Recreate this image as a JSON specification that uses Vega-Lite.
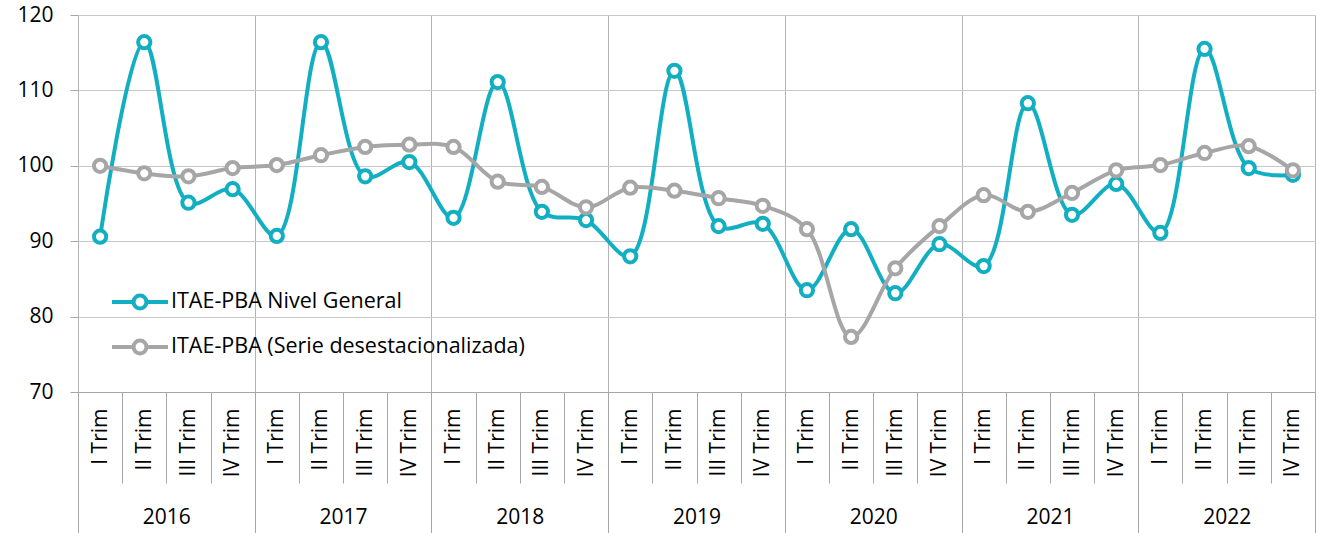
{
  "$schema": "https://vega.github.io/schema/vega-lite/v6.json",
  "width": 1237,
  "height": 377,
  "autosize": {"type": "none"},
  "padding": {"left": 78, "top": 15, "right": 4, "bottom": 141},
  "background": "white",
  "config": {
    "view": {"stroke": null},
    "font": "Open Sans",
    "axis": {"labelFont": "Open Sans", "labelFontSize": 21, "labelColor": "#000000", "tickColor": "#A6A6A6", "domainColor": "#A6A6A6", "gridColor": "#C8C8C8", "title": null},
    "legend": {
      "symbolType": "M-1,0H-0.23M0.23,0H1M0.23,0A0.23,0.23 0 1,1 -0.23,0A0.23,0.23 0 1,1 0.23,0",
      "symbolSize": 3136,
      "symbolStrokeWidth": 4,
      "symbolFillColor": "white",
      "labelFont": "Open Sans",
      "labelFontSize": 21.5,
      "labelColor": "#000000",
      "labelOffset": 1,
      "rowPadding": -4,
      "labelLimit": 600
    }
  },
  "data": {
    "values": [
      {"t": 1, "serie": "ITAE-PBA Nivel General", "valor": 90.6},
      {"t": 2, "serie": "ITAE-PBA Nivel General", "valor": 116.4},
      {"t": 3, "serie": "ITAE-PBA Nivel General", "valor": 95.1},
      {"t": 4, "serie": "ITAE-PBA Nivel General", "valor": 96.9},
      {"t": 5, "serie": "ITAE-PBA Nivel General", "valor": 90.7},
      {"t": 6, "serie": "ITAE-PBA Nivel General", "valor": 116.4},
      {"t": 7, "serie": "ITAE-PBA Nivel General", "valor": 98.6},
      {"t": 8, "serie": "ITAE-PBA Nivel General", "valor": 100.5},
      {"t": 9, "serie": "ITAE-PBA Nivel General", "valor": 93.1},
      {"t": 10, "serie": "ITAE-PBA Nivel General", "valor": 111.1},
      {"t": 11, "serie": "ITAE-PBA Nivel General", "valor": 93.9},
      {"t": 12, "serie": "ITAE-PBA Nivel General", "valor": 92.8},
      {"t": 13, "serie": "ITAE-PBA Nivel General", "valor": 88.0},
      {"t": 14, "serie": "ITAE-PBA Nivel General", "valor": 112.6},
      {"t": 15, "serie": "ITAE-PBA Nivel General", "valor": 92.0},
      {"t": 16, "serie": "ITAE-PBA Nivel General", "valor": 92.3},
      {"t": 17, "serie": "ITAE-PBA Nivel General", "valor": 83.5},
      {"t": 18, "serie": "ITAE-PBA Nivel General", "valor": 91.6},
      {"t": 19, "serie": "ITAE-PBA Nivel General", "valor": 83.1},
      {"t": 20, "serie": "ITAE-PBA Nivel General", "valor": 89.6},
      {"t": 21, "serie": "ITAE-PBA Nivel General", "valor": 86.7},
      {"t": 22, "serie": "ITAE-PBA Nivel General", "valor": 108.3},
      {"t": 23, "serie": "ITAE-PBA Nivel General", "valor": 93.5},
      {"t": 24, "serie": "ITAE-PBA Nivel General", "valor": 97.6},
      {"t": 25, "serie": "ITAE-PBA Nivel General", "valor": 91.1},
      {"t": 26, "serie": "ITAE-PBA Nivel General", "valor": 115.5},
      {"t": 27, "serie": "ITAE-PBA Nivel General", "valor": 99.7},
      {"t": 28, "serie": "ITAE-PBA Nivel General", "valor": 98.8},
      {"t": 1, "serie": "ITAE-PBA (Serie desestacionalizada)", "valor": 100.0},
      {"t": 2, "serie": "ITAE-PBA (Serie desestacionalizada)", "valor": 99.0},
      {"t": 3, "serie": "ITAE-PBA (Serie desestacionalizada)", "valor": 98.6},
      {"t": 4, "serie": "ITAE-PBA (Serie desestacionalizada)", "valor": 99.7},
      {"t": 5, "serie": "ITAE-PBA (Serie desestacionalizada)", "valor": 100.1},
      {"t": 6, "serie": "ITAE-PBA (Serie desestacionalizada)", "valor": 101.4},
      {"t": 7, "serie": "ITAE-PBA (Serie desestacionalizada)", "valor": 102.5},
      {"t": 8, "serie": "ITAE-PBA (Serie desestacionalizada)", "valor": 102.8},
      {"t": 9, "serie": "ITAE-PBA (Serie desestacionalizada)", "valor": 102.5},
      {"t": 10, "serie": "ITAE-PBA (Serie desestacionalizada)", "valor": 97.9},
      {"t": 11, "serie": "ITAE-PBA (Serie desestacionalizada)", "valor": 97.2},
      {"t": 12, "serie": "ITAE-PBA (Serie desestacionalizada)", "valor": 94.5},
      {"t": 13, "serie": "ITAE-PBA (Serie desestacionalizada)", "valor": 97.1},
      {"t": 14, "serie": "ITAE-PBA (Serie desestacionalizada)", "valor": 96.7},
      {"t": 15, "serie": "ITAE-PBA (Serie desestacionalizada)", "valor": 95.7},
      {"t": 16, "serie": "ITAE-PBA (Serie desestacionalizada)", "valor": 94.7},
      {"t": 17, "serie": "ITAE-PBA (Serie desestacionalizada)", "valor": 91.6},
      {"t": 18, "serie": "ITAE-PBA (Serie desestacionalizada)", "valor": 77.3},
      {"t": 19, "serie": "ITAE-PBA (Serie desestacionalizada)", "valor": 86.4},
      {"t": 20, "serie": "ITAE-PBA (Serie desestacionalizada)", "valor": 92.0},
      {"t": 21, "serie": "ITAE-PBA (Serie desestacionalizada)", "valor": 96.1},
      {"t": 22, "serie": "ITAE-PBA (Serie desestacionalizada)", "valor": 93.9},
      {"t": 23, "serie": "ITAE-PBA (Serie desestacionalizada)", "valor": 96.4},
      {"t": 24, "serie": "ITAE-PBA (Serie desestacionalizada)", "valor": 99.4},
      {"t": 25, "serie": "ITAE-PBA (Serie desestacionalizada)", "valor": 100.1},
      {"t": 26, "serie": "ITAE-PBA (Serie desestacionalizada)", "valor": 101.7},
      {"t": 27, "serie": "ITAE-PBA (Serie desestacionalizada)", "valor": 102.6},
      {"t": 28, "serie": "ITAE-PBA (Serie desestacionalizada)", "valor": 99.4}
    ]
  },
  "layer": [
    {
      "mark": {"type": "point", "opacity": 0},
      "encoding": {
        "x": {"field": "t", "type": "quantitative", "scale": {"domain": [0.5, 28.5], "nice": false, "zero": false},
          "axis": {"orient": "bottom", "values": [1.5, 2.5, 3.5, 5.5, 6.5, 7.5, 9.5, 10.5, 11.5, 13.5, 14.5, 15.5, 17.5, 18.5, 19.5, 21.5, 22.5, 23.5, 25.5, 26.5, 27.5], "labels": false, "domain": false, "grid": false, "ticks": true, "tickSize": 91, "tickColor": "#A6A6A6"}}
      }
    },
    {
      "mark": {"type": "point", "opacity": 0},
      "encoding": {
        "x": {"field": "t", "type": "quantitative", "scale": {"domain": [0.5, 28.5], "nice": false, "zero": false},
          "axis": {"orient": "bottom", "values": [1, 2, 3, 4, 5, 6, 7, 8, 9, 10, 11, 12, 13, 14, 15, 16, 17, 18, 19, 20, 21, 22, 23, 24, 25, 26, 27, 28], "labelExpr": "['IV Trim','I Trim','II Trim','III Trim'][datum.value % 4]", "labelAngle": 270, "labelPadding": 16, "labelOverlap": false, "labelFlush": false, "domain": false, "grid": false, "ticks": false}}
      }
    },
    {
      "mark": {"type": "point", "opacity": 0},
      "encoding": {
        "x": {"field": "t", "type": "quantitative", "scale": {"domain": [0.5, 28.5], "nice": false, "zero": false},
          "axis": {"orient": "bottom", "values": [2.5, 6.5, 10.5, 14.5, 18.5, 22.5, 26.5], "labelExpr": "2016 + floor(datum.value / 4)", "labelAngle": 0, "labelPadding": 114, "labelBaseline": "top", "labelOverlap": false, "labelFlush": false, "domain": false, "grid": false, "ticks": false}}
      }
    },
    {
      "mark": {"type": "line", "interpolate": "catmull-rom", "strokeWidth": 4},
      "encoding": {
        "x": {"field": "t", "type": "quantitative", "scale": {"domain": [0.5, 28.5], "nice": false, "zero": false},
          "axis": {"orient": "bottom", "values": [0.5, 4.5, 8.5, 12.5, 16.5, 20.5, 24.5, 28.5], "labels": false, "domain": true, "grid": true, "gridColor": "#B4B4B4", "ticks": true, "tickSize": 141, "tickColor": "#A6A6A6"}},
        "y": {"field": "valor", "type": "quantitative", "scale": {"domain": [70, 120], "nice": false, "zero": false},
          "axis": {"values": [70, 80, 90, 100, 110, 120], "domain": false, "tickSize": 8, "labelPadding": 17, "grid": true}},
        "color": {"field": "serie", "type": "nominal",
          "scale": {"domain": ["ITAE-PBA Nivel General", "ITAE-PBA (Serie desestacionalizada)"], "range": ["#12AFC2", "#A6A6A6"]},
          "legend": {"title": null, "orient": "none", "legendX": 32, "legendY": 257,
            "encode": {"symbols": {"update": {"fill": {"value": "white"}, "strokeWidth": {"value": 4}}}}}},
        "order": {"field": "t", "type": "quantitative"}
      }
    },
    {
      "mark": {"type": "point", "filled": false, "fill": "white", "size": 150, "strokeWidth": 4, "opacity": 1},
      "encoding": {
        "x": {"field": "t", "type": "quantitative", "scale": {"domain": [0.5, 28.5], "nice": false, "zero": false}, "axis": null},
        "y": {"field": "valor", "type": "quantitative"},
        "color": {"field": "serie", "type": "nominal", "legend": {"title": null, "orient": "none", "legendX": 32, "legendY": 257,
            "encode": {"symbols": {"update": {"fill": {"value": "white"}, "strokeWidth": {"value": 4}}}}}}
      }
    }
  ],
  "resolve": {"axis": {"x": "independent"}}
}
